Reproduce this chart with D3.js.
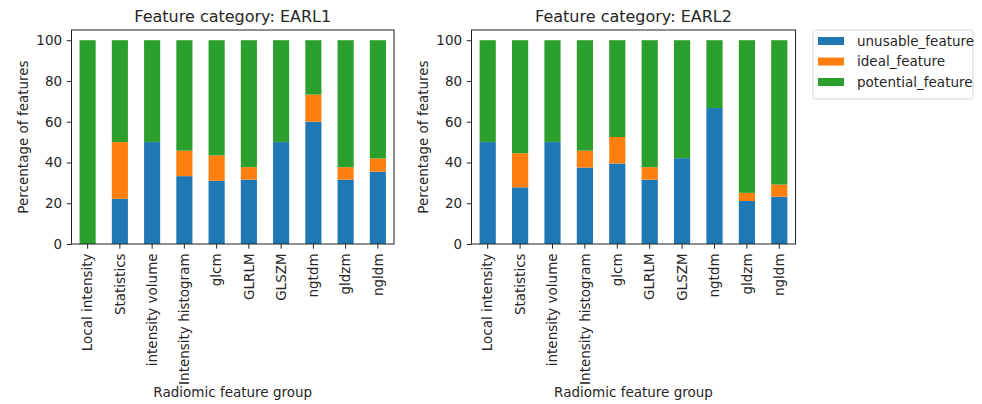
<!DOCTYPE html>
<html>
<head>
<meta charset="utf-8">
<script src="https://cdn.jsdelivr.net/npm/d3@7/dist/d3.min.js"></script>
<style>
  html, body { margin: 0; padding: 0; background: #fff; }
  svg { display: block; font-family: "DejaVu Sans", sans-serif; }
</style>
</head>
<body>
<svg id="chart" width="982" height="404"></svg>
<script>
// Radiomic feature groups on the x axis
const categories = ["Local intensity", "Statistics", "intensity volume", "Intensity histogram",
  "glcm", "GLRLM", "GLSZM", "ngtdm", "gldzm", "ngldm"];

// Percentage of features per group, EARL1
const earl1Unusable  = [0, 22.2, 50, 33.3, 31.0, 31.6, 50, 60.0, 31.6, 35.5];
const earl1Ideal     = [0, 27.8, 0, 12.5, 12.5, 6.1, 0, 13.3, 6.1, 6.5];
const earl1Potential = [100, 50.0, 50, 54.2, 56.5, 62.3, 50, 26.7, 62.3, 58.0];

// Percentage of features per group, EARL2
const earl2Unusable  = [50, 27.8, 50, 37.5, 39.5, 31.6, 42.1, 66.7, 21.1, 23.2];
const earl2Ideal     = [0, 16.7, 0, 8.3, 13.0, 6.1, 0, 0, 4.0, 6.0];
const earl2Potential = [50, 55.5, 50, 54.2, 47.5, 62.3, 57.9, 33.3, 74.9, 70.8];

const seriesNames = ["unusable_feature", "ideal_feature", "potential_feature"];
const seriesColors = ["#1f77b4", "#ff7f0e", "#2ca02c"];
const yTicks = [0, 20, 40, 60, 80, 100];

const panels = [
  { title: "Feature category: EARL1", left: 71.5, right: 394,
    series: [earl1Unusable, earl1Ideal, earl1Potential] },
  { title: "Feature category: EARL2", left: 471.5, right: 795.5,
    series: [earl2Unusable, earl2Ideal, earl2Potential] }
];

const plotTop = 30, plotBottom = 244;
const textColor = "#262626";
const labelSize = "13.5px";
const tickLen = 4.7, tickPad = 4.7;
const svg = d3.select("#chart");

const y = d3.scaleLinear().domain([0, 105]).range([plotBottom, plotTop]);

panels.forEach(p => {
  const rows = categories.map((c, i) => {
    const r = { category: c };
    seriesNames.forEach((s, k) => { r[s] = p.series[k][i]; });
    return r;
  });
  const stacked = d3.stack().keys(seriesNames)(rows);

  const x = d3.scaleBand()
    .domain(categories)
    .range([p.left, p.right])
    .paddingInner(0.5)
    .paddingOuter(0.25);

  const g = svg.append("g");

  g.selectAll("g.layer")
    .data(stacked)
    .join("g")
    .attr("class", "layer")
    .attr("fill", (d, i) => seriesColors[i])
    .selectAll("rect")
    .data(d => d)
    .join("rect")
    .attr("x", d => x(d.data.category))
    .attr("width", x.bandwidth())
    .attr("y", d => y(d[1]))
    .attr("height", d => y(d[0]) - y(d[1]));

  // frame
  g.append("rect")
    .attr("x", p.left).attr("y", plotTop)
    .attr("width", p.right - p.left).attr("height", plotBottom - plotTop)
    .attr("fill", "none").attr("stroke", "#222").attr("stroke-width", 1);

  // y axis
  const yAxis = g.append("g")
    .attr("transform", `translate(${p.left},0)`)
    .call(d3.axisLeft(y).tickValues(yTicks).tickSize(tickLen).tickPadding(tickPad));
  yAxis.select(".domain").remove();
  yAxis.selectAll("line").attr("stroke", "#222");
  yAxis.selectAll("text").attr("fill", textColor).style("font-size", labelSize)
    .style("font-family", "DejaVu Sans, sans-serif");

  // x axis, labels turned vertical
  const xAxis = g.append("g")
    .attr("transform", `translate(0,${plotBottom})`)
    .call(d3.axisBottom(x).tickSize(tickLen).tickPadding(tickPad));
  xAxis.select(".domain").remove();
  xAxis.selectAll("line").attr("stroke", "#222");
  xAxis.selectAll("text")
    .attr("fill", textColor)
    .style("font-size", labelSize)
    .style("font-family", "DejaVu Sans, sans-serif")
    .attr("text-anchor", "end")
    .attr("dy", "0.35em")
    .attr("transform", `translate(0,${tickLen + tickPad}) rotate(-90)`)
    .attr("x", 0).attr("y", 0);

  // title
  g.append("text")
    .attr("x", (p.left + p.right) / 2).attr("y", plotTop - 8)
    .attr("text-anchor", "middle").attr("fill", textColor)
    .style("font-size", "16px")
    .text(p.title);

  // y label
  g.append("text")
    .attr("transform", `translate(${p.left - 48.5},${(plotTop + plotBottom) / 2}) rotate(-90)`)
    .attr("text-anchor", "middle").attr("dy", "0.35em").attr("fill", textColor)
    .style("font-size", labelSize)
    .text("Percentage of features");

  // x label
  g.append("text")
    .attr("x", (p.left + p.right) / 2).attr("y", 397)
    .attr("text-anchor", "middle").attr("fill", textColor)
    .style("font-size", labelSize)
    .text("Radiomic feature group");
});

// legend
const legend = svg.append("g");
legend.append("rect")
  .attr("x", 813).attr("y", 30).attr("width", 160).attr("height", 69).attr("rx", 2.5)
  .attr("fill", "#fff").attr("stroke", "#d6d6d6");
seriesNames.forEach((s, i) => {
  const cy = 41 + i * 20.5;
  legend.append("rect")
    .attr("x", 818).attr("y", cy - 4).attr("width", 26).attr("height", 8)
    .attr("fill", seriesColors[i]);
  legend.append("text")
    .attr("x", 857).attr("y", cy).attr("dy", "0.35em")
    .attr("fill", textColor).style("font-size", labelSize)
    .text(s);
});
</script>
</body>
</html>
